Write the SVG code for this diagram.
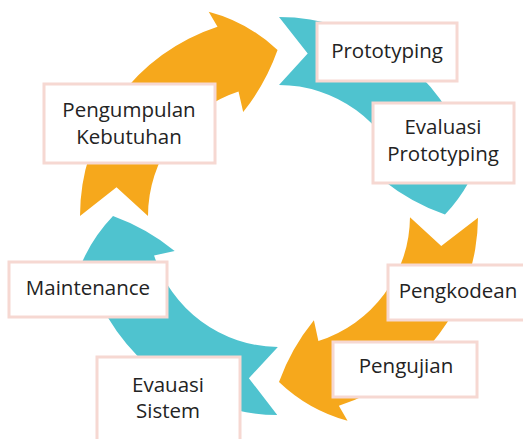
<svg xmlns="http://www.w3.org/2000/svg" xmlns:xlink="http://www.w3.org/1999/xlink" width="523" height="439" viewBox="0 0 523 439">
  <style>
    .box { fill: #ffffff; stroke: #f6d8d2; stroke-width: 3; }
    .lbl { font-family: 'Open Sans', 'Noto Sans', sans-serif; font-size: 20.5px; fill: #232323; text-anchor: middle; }
    .orange { fill: #f6a81c; }
    .teal { fill: #4fc3cf; }
  </style>
  <defs>
    <path id="arrow" d="M199,0 L162.5,28.7 L131,0 A131,131 0 0 1 40.48,124.59 L35.81,104.01 Q13.4,132.1 1.45,165.99 Q31,193.8 70.32,204.23 L61.49,189.26 A199,199 0 0 0 199,0 Z"/>
  </defs>
  <rect width="523" height="439" fill="#ffffff"/>
  <g id="connectors">
    <use xlink:href="#arrow" class="orange" transform="translate(279,216) rotate(180)"/>
    <use xlink:href="#arrow" class="teal" transform="translate(279,216) rotate(270)"/>
    <use xlink:href="#arrow" class="orange" transform="translate(279,216) rotate(0.5)"/>
    <use xlink:href="#arrow" class="teal" transform="translate(279,216) rotate(90.5)"/>
  </g>
  <g id="node-prototyping">
    <rect class="box" x="317" y="23" width="140" height="58"/>
    <text class="lbl" x="387" y="58">Prototyping</text>
  </g>
  <g id="node-evaluasi-prototyping">
    <rect class="box" x="373" y="103" width="141" height="80"/>
    <text class="lbl" x="443" y="134">Evaluasi</text>
    <text class="lbl" x="443" y="161">Prototyping</text>
  </g>
  <g id="node-pengkodean">
    <rect class="box" x="388" y="265" width="140" height="55"/>
    <text class="lbl" x="458" y="298">Pengkodean</text>
  </g>
  <g id="node-pengujian">
    <rect class="box" x="333" y="342" width="144" height="55"/>
    <text class="lbl" x="406" y="373">Pengujian</text>
  </g>
  <g id="node-evauasi-sistem">
    <rect class="box" x="97" y="357" width="143" height="90"/>
    <text class="lbl" x="168" y="392">Evauasi</text>
    <text class="lbl" x="168" y="418">Sistem</text>
  </g>
  <g id="node-maintenance">
    <rect class="box" x="9" y="262" width="158" height="55"/>
    <text class="lbl" x="88" y="295">Maintenance</text>
  </g>
  <g id="node-pengumpulan-kebutuhan">
    <rect class="box" x="44" y="84" width="171" height="79"/>
    <text class="lbl" x="129" y="117">Pengumpulan</text>
    <text class="lbl" x="129" y="144">Kebutuhan</text>
  </g>
</svg>
